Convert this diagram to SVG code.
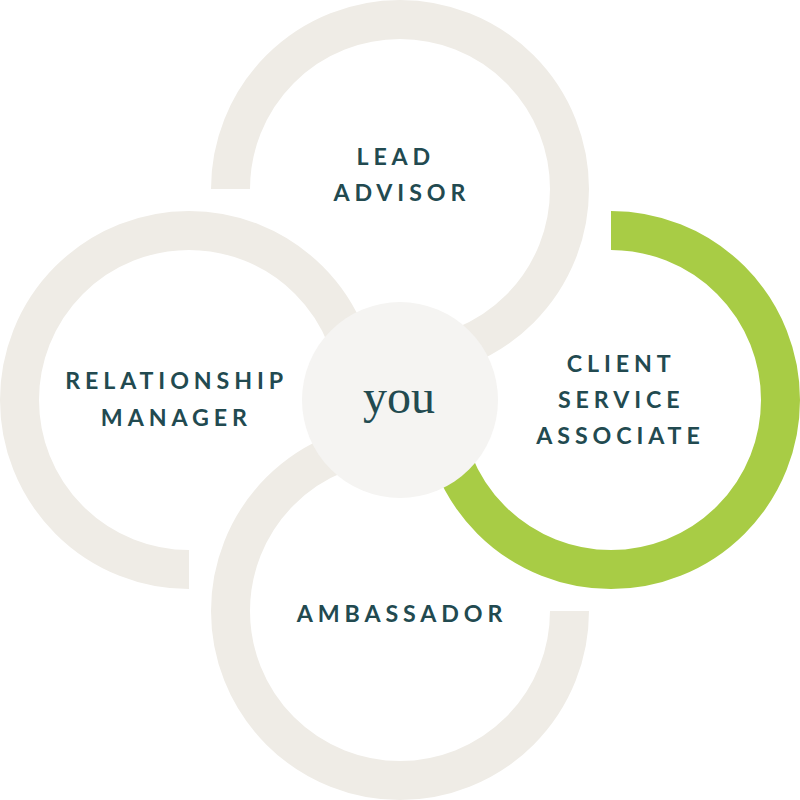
<svg xmlns="http://www.w3.org/2000/svg" width="800" height="800" viewBox="0 0 800 800">
<style>
.ring{fill:none;stroke:#efece6;stroke-width:39;stroke-linecap:butt}
.ring.active{stroke:#a8cc45}
.lbl{font-family:Lato,"Open Sans","Liberation Sans",sans-serif;font-weight:700;font-size:23.2px;letter-spacing:4.9px;fill:#224a50;text-anchor:middle}
.you{font-family:"Liberation Serif","DejaVu Serif",serif;font-size:48px;fill:#224a50;text-anchor:middle}
</style>
<rect width="800" height="800" fill="#ffffff"/>
<g id="connectors"></g>
<g id="lead-advisor">
<path class="ring" d="M230.5 189 A169.5 169.5 0 1 1 400 358.5"/>
<text class="lbl" x="395.8" y="164.5">LEAD</text>
<text class="lbl" x="401.8" y="201">ADVISOR</text>
</g>
<g id="relationship-manager">
<path class="ring" d="M189 569.5 A169.5 169.5 0 1 1 358.5 400"/>
<text class="lbl" x="176.6" y="389.3">RELATIONSHIP</text>
<text class="lbl" x="176.3" y="426">MANAGER</text>
</g>
<g id="ambassador">
<path class="ring" d="M569.5 611 A169.5 169.5 0 1 1 400 441.5"/>
<text class="lbl" x="402" y="622.3">AMBASSADOR</text>
</g>
<g id="client-service-associate">
<path class="ring active" d="M611 230.5 A169.5 169.5 0 1 1 441.5 400"/>
<text class="lbl" x="621.2" y="371.5">CLIENT</text>
<text class="lbl" x="621.2" y="407.7">SERVICE</text>
<text class="lbl" x="620.5" y="444.3">ASSOCIATE</text>
</g>
<g id="you">
<circle cx="400" cy="400" r="98" fill="#f5f4f2"/>
<text class="you" x="399" y="412.7">you</text>
</g>
</svg>
